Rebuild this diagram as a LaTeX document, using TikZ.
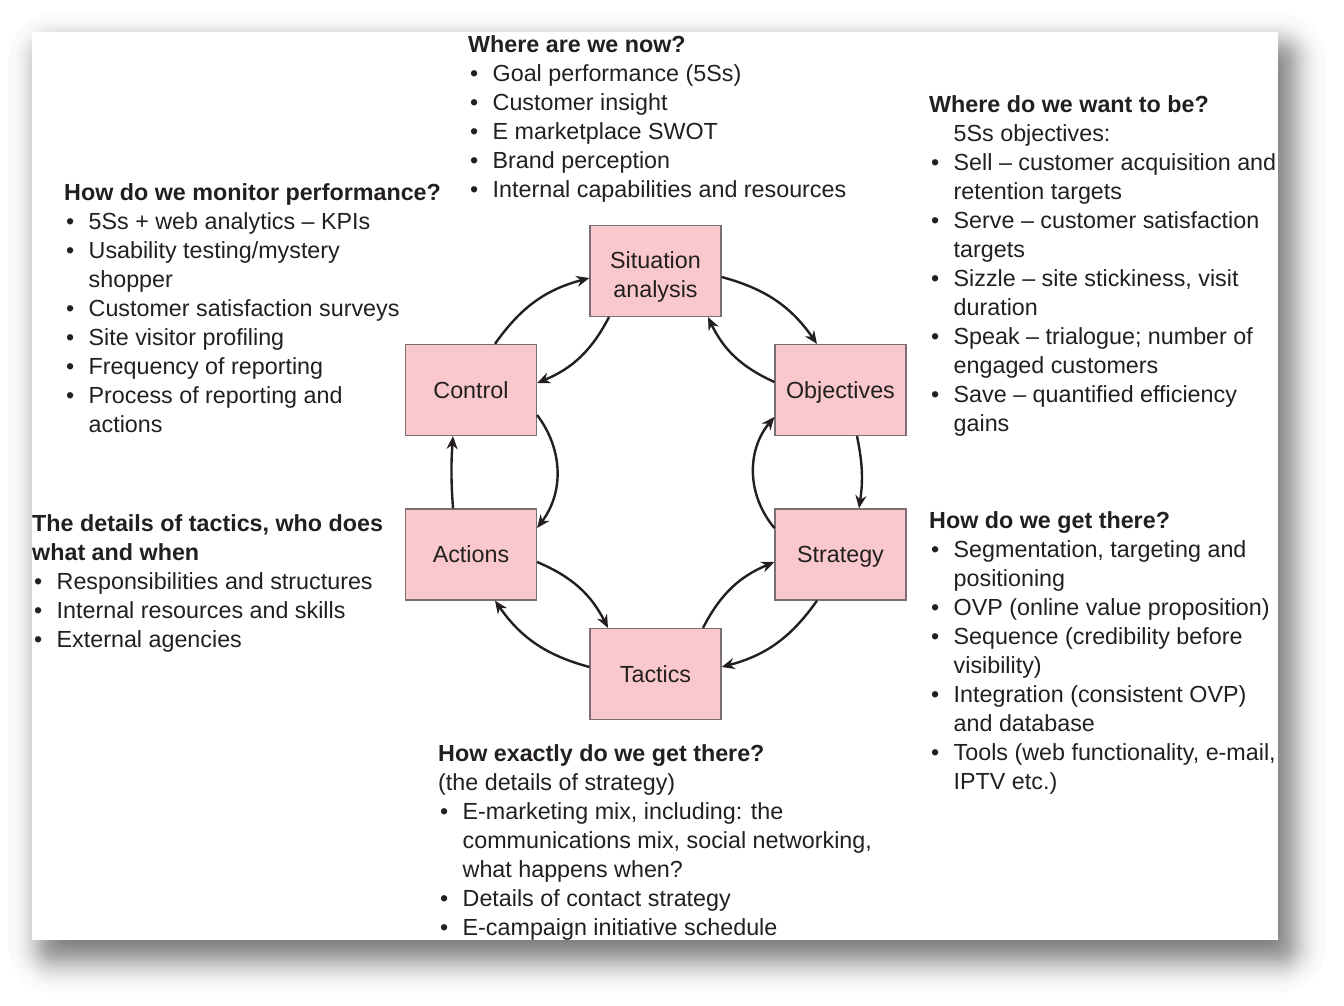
\documentclass[tikz,border=0pt]{standalone}
\usepackage{fontspec}
\setmainfont{Liberation Sans}
\usetikzlibrary{arrows.meta, positioning, calc}
\definecolor{boxpink}{RGB}{249,200,204}
\definecolor{boxline}{RGB}{122,112,114}
\definecolor{inkgrey}{RGB}{35,31,32}
\newcommand{\bl}{\makebox[24.5pt][l]{\hspace{2pt}\textbullet}}
\newcommand{\cn}{\hspace*{24.5pt}}

\tikzset{
  stage/.style={draw=boxline, line width=1.2pt, fill=boxpink, minimum width=131pt,
    minimum height=91pt, inner sep=0pt, align=center, text=inkgrey, text depth=0pt,
    font=\fontsize{23.3}{29}\selectfont},
  notes/.style={anchor=north west, inner sep=0pt, align=left, text=inkgrey,
    font=\fontsize{23.3}{29}\selectfont},
  flow/.style={line width=2.4pt, inkgrey, -{Stealth[length=13pt,width=11pt]}}
}

\begin{document}
\begin{tikzpicture}[x=1pt, y=1pt]
  \useasboundingbox (0,0) rectangle (1344,-1006);
  % page with its drop shadow
  \foreach \e in {-35.8,-28.5,-24.5,-21.7,-19.4,-17.5,-15.7,-14.2,-12.8,-11.4,
                  -10.2,-9,-7.8,-6.7,-5.6,-4.6,-3.5,-2.5,-1.5,-0.5,
                  0.5,1.5,2.5,3.5,4.6,5.6,6.7,7.8,9,10.2,
                  11.4,12.8,14.2,15.7,17.5,19.4,21.7,24.5,28.5,35.8} {
    \pgfmathsetmacro\r{max(\e,0)+12}
    \fill[black, fill opacity=0.02, rounded corners=\r pt]
      ({44-\e},{-49+\e}) rectangle ({1290+\e},{-957-\e});
  }
  \fill[white] (32,-32) rectangle (1278,-940);

  % the cycle
  \node[stage, text height=52pt] (sit) at (655.5,-271) {Situation\\analysis};
  \node[stage] (obj) at (840.5,-390) {Objectives};
  \node[stage] (strat) at (840.5,-554.5) {Strategy};
  \node[stage] (tac) at (655.5,-674) {Tactics};
  \node[stage] (act) at (471,-554.5) {Actions};
  \node[stage] (ctrl) at (471,-390) {Control};

  \draw[flow] ([xshift=24pt]ctrl.north) to[bend left=20] ([yshift=-7pt]sit.west);
  \draw[flow] ([xshift=-46.5pt]sit.south) to[bend left=20] ([yshift=7pt]ctrl.east);
  \draw[flow] ([yshift=-6pt]sit.east) to[bend left=20] ([xshift=-23.5pt]obj.north);
  \draw[flow] ([yshift=8pt]obj.west) to[bend left=20] ([xshift=52.5pt]sit.south);
  \draw[flow] ([xshift=16.5pt]obj.south) to[bend left=10] ([xshift=18.5pt]strat.north);
  \draw[flow] ([yshift=26.5pt]strat.west) to[bend left=40] ([yshift=-27pt]obj.west);
  \draw[flow] ([xshift=-23.5pt]strat.south) to[bend left=20] ([yshift=7pt]tac.east);
  \draw[flow] ([xshift=47.5pt]tac.north) to[bend left=20] ([yshift=-7.5pt]strat.west);
  \draw[flow] ([yshift=-7.5pt]act.east) to[bend left=20] ([xshift=-47.5pt]tac.north);
  \draw[flow] ([yshift=7pt]tac.west) to[bend left=20] ([xshift=24pt]act.south);
  \draw[flow] ([xshift=-18pt]act.north) to[bend left=4] ([xshift=-18pt]ctrl.south);
  \draw[flow] ([yshift=-25pt]ctrl.east) to[bend left=37] ([yshift=26.5pt]act.east);

  % questions round the cycle
  \node[notes] (now) at (468,-35.5) {\textbf{Where are we now?}\\
    \bl Goal performance (5Ss)\\
    \bl Customer insight\\
    \bl E marketplace SWOT\\
    \bl Brand perception\\
    \bl Internal capabilities and resources};
  \node[notes] (monitor) at (64,-183.5) {\textbf{How do we monitor performance?}\\
    \bl 5Ss + web analytics – KPIs\\
    \bl Usability testing/mystery\\
    \cn shopper\\
    \bl Customer satisfaction surveys\\
    \bl Site visitor profiling\\
    \bl Frequency of reporting\\
    \bl Process of reporting and\\
    \cn actions};
  \node[notes] (want) at (929,-95.5) {\textbf{Where do we want to be?}\\
    \cn 5Ss objectives:\\
    \bl Sell – customer acquisition and\\
    \cn retention targets\\
    \bl Serve – customer satisfaction\\
    \cn targets\\
    \bl Sizzle – site stickiness, visit\\
    \cn duration\\
    \bl Speak – trialogue; number of\\
    \cn engaged customers\\
    \bl Save – quantified efficiency\\
    \cn gains};
  \node[notes] (who) at (32,-514.5) {\textbf{The details of tactics, who does}\\
    \textbf{what and when}\\
    \bl Responsibilities and structures\\
    \bl Internal resources and skills\\
    \bl External agencies};
  \node[notes] (how) at (929,-511.5) {\textbf{How do we get there?}\\
    \bl Segmentation, targeting and\\
    \cn positioning\\
    \bl OVP (online value proposition)\\
    \bl Sequence (credibility before\\
    \cn visibility)\\
    \bl Integration (consistent OVP)\\
    \cn and database\\
    \bl Tools (web functionality, e-mail,\\
    \cn IPTV etc.)};
  \node[notes] (exact) at (438,-744.5) {\textbf{How exactly do we get there?}\\
    (the details of strategy)\\
    \bl E-marketing mix, including: the\\
    \cn communications mix, social networking,\\
    \cn what happens when?\\
    \bl Details of contact strategy\\
    \bl E-campaign initiative schedule};
\end{tikzpicture}
\end{document}
